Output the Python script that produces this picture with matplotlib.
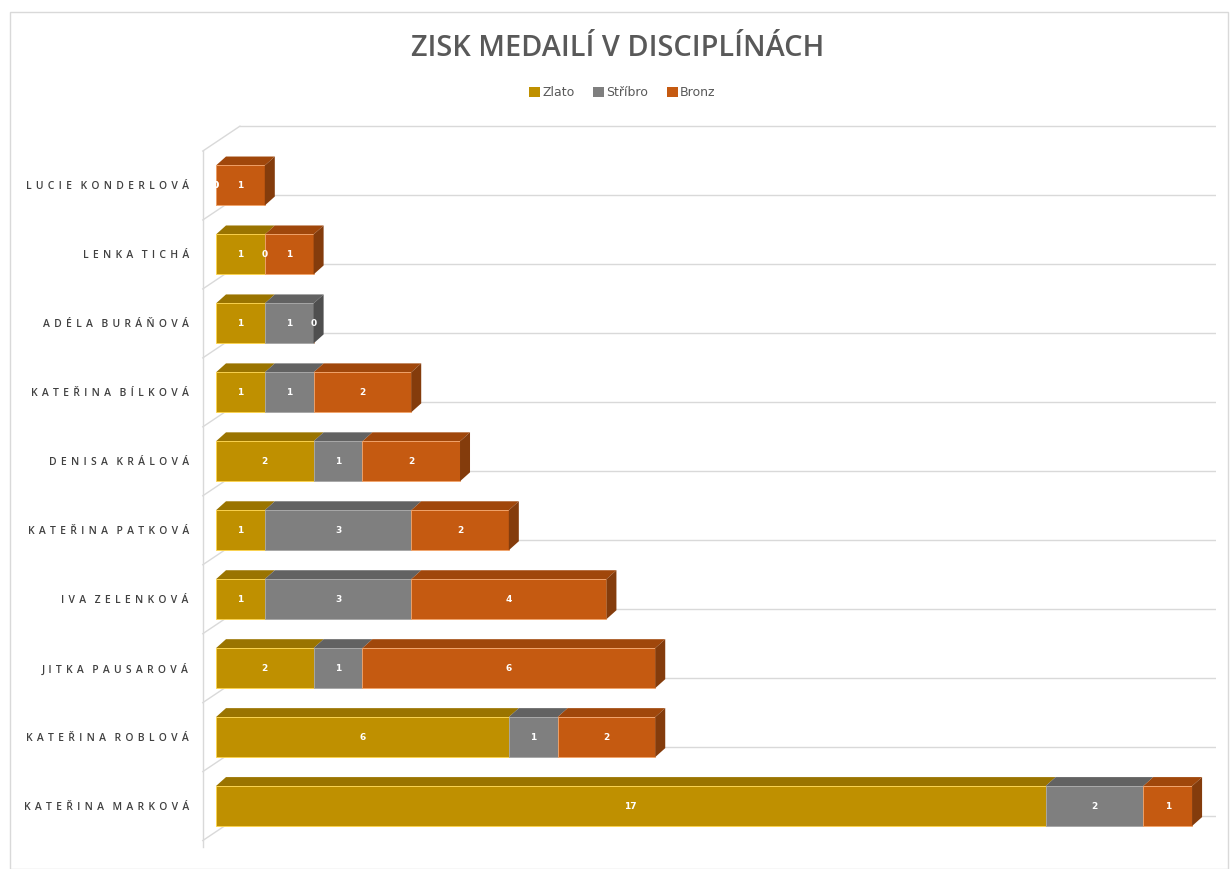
import numpy as np
import matplotlib.pyplot as plt
from matplotlib.patches import Polygon, Rectangle, Patch

# data, top row first
names = ['Lucie Konderlová', 'Lenka Tichá', 'Adéla Buráňová', 'Kateřina Bílková',
         'Denisa Králová', 'Kateřina Patková', 'Iva Zelenková', 'Jitka Pausarová',
         'Kateřina Roblová', 'Kateřina Marková']
zlato = [0, 1, 1, 1, 2, 1, 1, 2, 6, 17]
stribro = [0, 0, 1, 1, 1, 3, 3, 1, 1, 2]
bronz = [1, 1, 0, 2, 2, 2, 4, 6, 2, 1]
series_names = ['Zlato', 'Stříbro', 'Bronz']

front = ['#BF9000', '#7F7F7F', '#C55A11']
top = ['#9A7400', '#626262', '#A0470B']
side = ['#7F6000', '#4F4F4F', '#843C0C']
edge = ['#FFD54A', '#A6A6A6', '#F4A46A']

fig = plt.figure(figsize=(12.3, 8.69), dpi=100)
fig.patches.append(Rectangle((10 / 1230, 0.0), 1218 / 1230, 1 - 12 / 869, transform=fig.transFigure,
                             fill=False, edgecolor='#D9D9D9', linewidth=1))
ax = fig.add_axes([0.1637, 0.0169, 0.8253, 0.849])

h = 0.58      # bar front height
dx, dy = 0.205, 0.13   # bar depth
wx, wy = 0.76, 0.36    # wall depth
xmax = 20.47
y = np.arange(len(names))

# back wall / floor lines
grid = '#D9D9D9'
for b in np.arange(-0.5, len(names) + 0.5, 1.0):
    ax.plot([wx - 0.27, xmax], [b - wy, b - wy], color=grid, lw=1, zorder=0)
    ax.plot([-0.27, wx - 0.27], [b, b - wy], color=grid, lw=1, zorder=0)
ax.plot([-0.27, -0.27], [-0.5, len(names) - 0.5 + 0.1], color=grid, lw=1, zorder=0)

vals = [zlato, stribro, bronz]
left = np.zeros(len(names))
for k, v in enumerate(vals):
    v = np.array(v, dtype=float)
    ax.barh(y, v, left=left, height=h, color=front[k], edgecolor=edge[k], linewidth=0.6, zorder=3)
    for i in range(len(names)):
        x0, x1 = left[i], left[i] + v[i]
        yt = y[i] - h / 2
        if v[i] > 0:
            ax.add_patch(Polygon([(x0, yt), (x0 + dx, yt - dy), (x1 + dx, yt - dy), (x1, yt)],
                                 closed=True, facecolor=top[k], edgecolor='none', zorder=2))
        ax.text((x0 + x1) / 2, y[i], str(int(v[i])), ha='center', va='center',
                color='white', fontsize=6.5, fontweight='bold', zorder=6)
    left = left + v

# right side faces
tot = left
for i in range(len(names)):
    last = [k for k in range(3) if vals[k][i] > 0][-1]
    x1 = tot[i]
    yt, yb = y[i] - h / 2, y[i] + h / 2
    ax.add_patch(Polygon([(x1, yt), (x1 + dx, yt - dy), (x1 + dx, yb - dy), (x1, yb)],
                         closed=True, facecolor=side[last], edgecolor='none', zorder=4))

ax.set_xlim(-0.3, 20.5)
ax.set_ylim(9.7, -1.0)
ax.set_yticks(y)
# letter-spaced caps like the original
word_gap = '\u2009' * 4
ax.set_yticklabels([word_gap.join('\u2009\u2009'.join(w) for w in n.upper().split()) for n in names],
                   fontsize=7.5, color='#404040', fontweight='semibold',
                   family=['Open Sans', 'DejaVu Sans'])
ax.tick_params(axis='y', length=0, pad=9)
ax.set_xticks([])
for s in ax.spines.values():
    s.set_visible(False)

fig.text(0.5025, 0.944, 'ZISK MEDAILÍ V DISCIPLÍNÁCH', ha='center', va='center',
         fontsize=20.8, fontweight='semibold', color='#595959', family='Open Sans')
handles = [Patch(facecolor=front[k], label=series_names[k]) for k in range(3)]
fig.legend(handles=handles, loc='center', bbox_to_anchor=(0.506, 0.893), ncol=3, frameon=False,
           fontsize=9, handlelength=0.85, handleheight=0.85, handletextpad=0.2, columnspacing=1.5,
           labelcolor='#595959')

fig.savefig('out.png', dpi=100)
